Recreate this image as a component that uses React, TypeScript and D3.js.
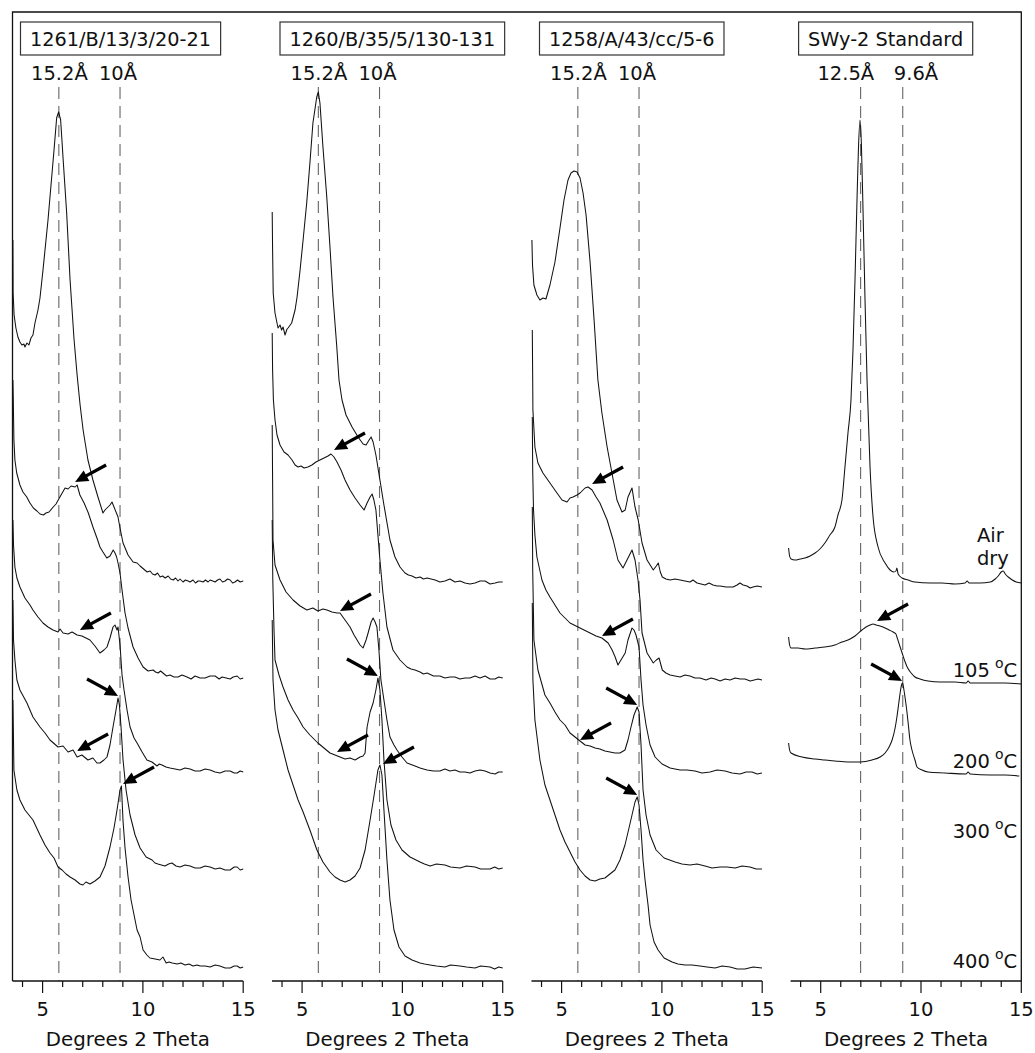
import React, { useEffect, useRef } from "react";
import * as d3 from "d3";

type Pt = [number, number];

// ---------------- data ----------------
const SAMPLES = ["1261/B/13/3/20-21", "1260/B/35/5/130-131", "1258/A/43/cc/5-6", "SWy-2 Standard"];
const PEAK_LABELS = [["15.2Å", "10Å"], ["15.2Å", "10Å"], ["15.2Å", "10Å"], ["12.5Å", "9.6Å"]];
const PEAK_LINES = [[5.81, 8.86], [5.81, 8.86], [5.81, 8.86], [6.99, 9.09]];
const PEAK_LABEL_POS = [[5.84, 8.76], [5.84, 8.76], [5.84, 8.76], [6.25, 9.75]];
const X_TICKS = [4, 5, 6, 7, 8, 9, 10, 11, 12, 13, 14, 15];
const X_MAJOR = [5, 10, 15];
const TREATMENTS = ["105", "200", "300", "400"];
const TREATMENT_LEVEL = [304, 213, 143, 13];
const AIR_DRY = ["Air", "dry"];
const AIR_DRY_LEVEL = [439, 416];

// Panel 1: 1261/B/13/3/20-21  [2θ, intensity (offset)]
const P1_AIR: Pt[] = [[3.52,741],[3.53,688],[3.58,666],[3.67,653],[3.77,644],[3.87,639],[3.97,636],[4.07,637],[4.12,634],[4.22,638],[4.32,636],[4.42,643],[4.52,646],[4.62,658],[4.77,671],[4.87,683],[5.02,711],[5.17,741],[5.27,761],[5.42,796],[5.57,831],[5.70,863],[5.80,869],[5.90,861],[6.02,823],[6.20,768],[6.37,701],[6.57,641],[6.73,604],[6.87,576],[7.02,551],[7.26,521],[7.51,501],[7.76,484],[8.01,468],[8.11,471],[8.21,473],[8.36,476],[8.46,479],[8.56,474],[8.76,464],[8.86,453],[9.01,438],[9.26,426],[9.51,419],[9.71,418],[9.86,415],[10.21,409],[10.36,410],[10.48,407],[10.61,406],[10.73,408],[10.86,404],[10.98,405],[11.11,403],[11.26,405],[11.38,402],[11.51,401],[11.63,403],[11.75,400],[11.85,402],[12.0,399],[12.12,401],[12.25,400],[12.35,399],[12.5,401],[12.62,398],[12.75,400],[12.85,400],[13.0,399],[13.12,401],[13.25,399],[13.35,401],[13.48,400],[13.60,399],[13.72,401],[13.84,402],[13.97,399],[14.10,400],[14.22,402],[14.35,401],[14.47,398],[14.59,399],[14.72,401],[14.85,399],[15.0,400]];
const P1_105: Pt[] = [[3.52,601],[3.54,581],[3.57,541],[3.62,521],[3.71,508],[3.87,496],[4.02,489],[4.21,484],[4.37,478],[4.54,473],[4.72,470],[4.87,467],[5.04,466],[5.17,468],[5.32,469],[5.53,474],[5.67,477],[5.78,481],[5.92,486],[6.12,493],[6.27,492],[6.42,495],[6.62,494],[6.72,496],[6.86,486],[7.07,478],[7.28,468],[7.51,454],[7.71,443],[7.86,434],[8.01,429],[8.20,423],[8.36,425],[8.52,431],[8.61,428],[8.69,424],[8.76,418],[8.86,408],[8.96,391],[9.11,368],[9.26,353],[9.51,334],[9.76,323],[10.01,314],[10.26,310],[10.51,311],[10.63,309],[10.76,308],[10.88,310],[11.00,308],[11.18,305],[11.35,306],[11.55,304],[11.75,304],[11.95,306],[12.20,304],[12.40,302],[12.60,305],[12.85,303],[13.10,303],[13.35,305],[13.60,305],[13.80,302],[13.95,304],[14.15,303],[14.35,302],[14.50,304],[14.70,305],[14.85,302],[15.0,303]];
const P1_200: Pt[] = [[3.52,461],[3.55,436],[3.62,414],[3.72,403],[3.87,394],[4.12,383],[4.37,376],[4.52,371],[4.77,364],[5.02,358],[5.27,354],[5.52,351],[5.77,349],[5.87,352],[6.02,348],[6.27,347],[6.47,349],[6.72,346],[6.96,345],[7.16,343],[7.36,341],[7.61,335],[7.86,328],[8.06,331],[8.21,334],[8.36,343],[8.51,354],[8.61,356],[8.71,351],[8.76,354],[8.86,336],[8.96,306],[9.06,291],[9.21,271],[9.36,254],[9.56,243],[9.71,238],[9.96,229],[10.20,221],[10.45,219],[10.58,217],[10.70,215],[10.82,217],[10.95,216],[11.15,214],[11.35,213],[11.60,212],[11.85,211],[12.10,213],[12.35,212],[12.60,210],[12.85,210],[13.10,212],[13.35,211],[13.60,209],[13.84,208],[14.10,210],[14.35,210],[14.55,208],[14.70,208],[14.85,210],[15.0,209]];
const P1_300: Pt[] = [[3.52,381],[3.55,341],[3.62,321],[3.72,301],[3.87,291],[4.22,278],[4.52,264],[4.87,254],[5.12,248],[5.37,241],[5.77,234],[6.02,235],[6.27,229],[6.52,231],[6.72,224],[6.96,226],[7.26,221],[7.51,223],[7.71,218],[7.86,218],[8.06,221],[8.21,224],[8.36,236],[8.51,254],[8.66,271],[8.76,283],[8.83,276],[8.91,254],[9.01,221],[9.16,191],[9.36,166],[9.61,146],[9.86,133],[10.16,124],[10.46,121],[10.60,118],[10.75,117],[10.92,116],[11.10,115],[11.28,117],[11.45,118],[11.65,115],[11.85,114],[12.10,116],[12.35,115],[12.60,113],[12.85,113],[13.10,115],[13.35,114],[13.60,112],[13.84,113],[14.10,111],[14.35,111],[14.55,114],[14.70,114],[14.85,111],[15.0,112]];
const P1_400: Pt[] = [[3.52,281],[3.55,241],[3.57,211],[3.72,191],[3.87,181],[4.12,171],[4.52,161],[4.87,146],[5.12,136],[5.37,128],[5.57,123],[5.77,114],[5.97,111],[6.17,107],[6.37,104],[6.62,101],[6.86,97],[7.01,96],[7.16,99],[7.36,97],[7.61,100],[7.86,104],[8.11,115],[8.36,134],[8.56,153],[8.71,171],[8.86,191],[8.93,195],[9.01,160],[9.11,133],[9.26,104],[9.41,81],[9.56,66],[9.71,51],[9.86,44],[10.01,31],[10.20,26],[10.35,23],[10.61,22],[10.85,21],[11.00,24],[11.16,18],[11.30,19],[11.46,18],[11.71,17],[11.90,18],[12.10,16],[12.30,17],[12.50,15],[12.70,16],[12.85,15],[13.10,15],[13.35,14],[13.60,16],[13.84,15],[14.10,13],[14.35,13],[14.55,15],[14.70,15],[14.85,13],[15.0,14]];

// Panel 2: 1260/B/35/5/130-131
const P2_AIR: Pt[] = [[3.51,769],[3.53,731],[3.56,688],[3.65,668],[3.80,653],[3.90,656],[3.98,651],[4.05,654],[4.15,646],[4.25,652],[4.30,653],[4.48,658],[4.65,671],[4.75,684],[4.90,711],[5.05,741],[5.23,778],[5.39,818],[5.54,858],[5.73,884],[5.81,889],[5.89,878],[6.04,834],[6.23,784],[6.39,734],[6.54,684],[6.73,634],[6.84,601],[6.99,581],[7.19,566],[7.49,554],[7.79,544],[8.04,537],[8.19,536],[8.34,541],[8.44,544],[8.54,539],[8.68,526],[8.88,501],[9.08,476],[9.38,441],[9.63,424],[9.88,414],[10.13,408],[10.30,406],[10.48,405],[10.68,403],[10.88,404],[11.05,402],[11.23,403],[11.43,402],[11.63,401],[11.87,399],[12.12,400],[12.37,402],[12.62,399],[12.87,400],[13.12,398],[13.37,397],[13.62,398],[13.87,400],[14.12,400],[14.37,397],[14.62,398],[14.80,399],[15.0,399]];
const P2_105: Pt[] = [[3.51,648],[3.53,611],[3.57,581],[3.65,561],[3.75,546],[3.90,536],[4.10,529],[4.30,526],[4.50,521],[4.65,516],[4.80,514],[4.95,515],[5.10,513],[5.29,514],[5.49,516],[5.69,519],[5.89,521],[6.09,523],[6.29,525],[6.44,527],[6.59,524],[6.74,519],[6.94,511],[7.14,501],[7.39,491],[7.64,483],[7.89,476],[8.09,471],[8.24,478],[8.39,484],[8.49,487],[8.58,481],[8.68,471],[8.78,446],[8.88,421],[9.03,388],[9.23,354],[9.53,331],[9.88,321],[10.23,314],[10.43,312],[10.63,311],[10.88,309],[11.05,307],[11.23,308],[11.55,305],[11.87,305],[12.12,303],[12.37,304],[12.62,304],[12.87,302],[13.12,303],[13.37,303],[13.62,305],[13.87,303],[14.12,305],[14.37,302],[14.62,302],[14.80,304],[15.0,303]];
const P2_200: Pt[] = [[3.51,556],[3.53,501],[3.55,441],[3.65,416],[3.90,401],[4.20,389],[4.55,381],[4.90,375],[5.24,371],[5.54,373],[5.79,370],[6.04,372],[6.24,371],[6.49,369],[6.74,368],[6.89,368],[7.14,361],[7.39,354],[7.59,346],[7.74,341],[7.89,336],[8.04,333],[8.19,341],[8.29,348],[8.44,359],[8.54,363],[8.64,359],[8.73,354],[8.83,331],[8.93,301],[9.08,281],[9.23,261],[9.38,244],[9.58,236],[9.73,231],[9.98,224],[10.23,218],[10.63,215],[10.88,213],[11.05,212],[11.23,211],[11.55,210],[11.87,210],[12.12,212],[12.37,210],[12.62,211],[12.87,209],[13.12,209],[13.37,208],[13.62,210],[13.87,211],[14.12,210],[14.37,208],[14.62,207],[14.80,209],[15.0,209]];
const P2_300: Pt[] = [[3.51,461],[3.54,401],[3.60,351],[3.65,321],[3.85,306],[4.05,294],[4.30,281],[4.55,271],[4.80,263],[5.05,254],[5.39,246],[5.79,238],[6.09,233],[6.39,228],[6.64,226],[6.89,224],[7.14,222],[7.39,223],[7.64,221],[7.89,224],[8.04,225],[8.14,228],[8.24,254],[8.39,269],[8.54,278],[8.68,291],[8.78,303],[8.88,291],[8.98,261],[9.08,221],[9.23,181],[9.43,156],[9.68,141],[9.98,131],[10.38,124],[10.88,119],[11.10,117],[11.38,115],[11.70,117],[12.12,116],[12.40,114],[12.87,113],[13.20,115],[13.62,114],[13.90,112],[14.37,112],[14.60,114],[14.80,112],[15.0,113]];
const P2_400: Pt[] = [[3.51,361],[3.55,301],[3.65,271],[3.80,251],[4.05,231],[4.30,211],[4.55,196],[4.80,181],[5.05,169],[5.39,151],[5.74,131],[6.04,119],[6.39,109],[6.64,104],[6.89,101],[7.14,99],[7.39,101],[7.64,105],[7.89,113],[8.14,131],[8.39,161],[8.59,186],[8.78,211],[8.88,216],[8.98,206],[9.08,171],[9.23,121],[9.38,81],[9.58,51],[9.83,34],[10.13,25],[10.48,21],[10.88,18],[11.10,17],[11.38,16],[11.70,15],[12.12,14],[12.40,16],[12.87,15],[13.20,14],[13.62,13],[13.90,15],[14.37,14],[14.60,12],[14.80,14],[15.0,13]];

// Panel 3: 1258/A/43/cc/5-6
const P3_AIR: Pt[] = [[3.52,741],[3.55,716],[3.62,696],[3.77,686],[3.92,681],[4.07,683],[4.22,682],[4.42,696],[4.67,719],[4.92,753],[5.12,781],[5.32,801],[5.47,808],[5.62,810],[5.77,809],[5.92,803],[6.07,788],[6.22,766],[6.42,719],[6.62,661],[6.81,601],[7.01,568],[7.27,534],[7.51,508],[7.76,481],[8.01,469],[8.17,471],[8.31,484],[8.51,493],[8.66,474],[8.82,461],[9.01,438],[9.26,421],[9.57,411],[9.72,415],[9.82,418],[9.92,409],[10.02,404],[10.20,402],[10.41,401],[10.65,402],[10.91,401],[11.15,400],[11.40,399],[11.55,401],[11.75,398],[11.95,397],[12.15,396],[12.35,398],[12.55,396],[12.75,395],[12.90,395],[13.20,394],[13.55,394],[13.75,396],[13.89,398],[14.05,396],[14.24,395],[14.40,393],[14.54,394],[14.75,395],[14.99,394]];
const P3_105: Pt[] = [[3.54,651],[3.56,601],[3.57,571],[3.67,534],[3.82,518],[4.07,508],[4.42,498],[4.77,488],[5.02,481],[5.27,479],[5.42,483],[5.57,484],[5.77,486],[5.92,488],[6.07,491],[6.17,493],[6.32,494],[6.52,491],[6.72,484],[6.91,478],[7.27,461],[7.57,441],[7.81,421],[8.06,413],[8.26,421],[8.51,431],[8.66,421],[8.81,401],[8.91,381],[9.01,348],[9.26,328],[9.57,318],[9.72,321],[9.86,323],[10.02,311],[10.20,308],[10.41,306],[10.65,305],[10.91,304],[11.15,306],[11.40,305],[11.65,303],[11.90,303],[12.20,301],[12.45,303],[12.65,302],[12.90,300],[13.15,302],[13.40,301],[13.65,303],[13.90,302],[14.14,302],[14.40,300],[14.60,301],[14.80,302],[14.99,301]];
const P3_200: Pt[] = [[3.54,564],[3.56,511],[3.60,471],[3.67,446],[3.77,424],[4.02,401],[4.22,391],[4.42,384],[4.67,376],[4.92,368],[5.17,363],[5.42,358],[5.62,356],[5.82,354],[6.12,351],[6.42,348],[6.72,345],[7.01,343],[7.32,338],[7.52,331],[7.67,324],[7.81,316],[7.96,321],[8.17,328],[8.31,341],[8.51,353],[8.61,351],[8.71,346],[8.86,334],[8.96,301],[9.06,276],[9.21,256],[9.41,236],[9.66,224],[10.01,217],[10.41,213],[10.65,212],[10.91,211],[11.25,211],[11.65,210],[12.00,208],[12.40,209],[12.75,211],[13.15,210],[13.50,208],[13.89,207],[14.20,209],[14.49,209],[14.75,207],[14.99,208]];
const P3_300: Pt[] = [[3.54,474],[3.56,411],[3.62,341],[3.82,311],[4.17,286],[4.42,278],[4.67,269],[4.92,261],[5.17,256],[5.42,248],[5.67,244],[5.92,240],[6.17,236],[6.42,235],[6.67,233],[6.91,232],[7.16,230],[7.41,229],[7.66,228],[7.91,228],[8.16,231],[8.31,241],[8.46,254],[8.61,266],[8.77,274],[8.86,269],[8.96,236],[9.06,191],[9.21,166],[9.41,146],[9.71,131],[10.11,123],[10.66,119],[11.00,117],[11.40,116],[11.75,117],[12.15,115],[12.50,113],[12.90,114],[13.25,114],[13.65,113],[14.00,115],[14.39,114],[14.70,112],[14.99,112]];
const P3_400: Pt[] = [[3.54,378],[3.57,301],[3.67,261],[3.92,221],[4.17,196],[4.42,181],[4.67,166],[4.92,151],[5.17,139],[5.42,129],[5.67,119],[5.92,111],[6.17,105],[6.42,101],[6.67,100],[6.91,102],[7.16,103],[7.41,107],[7.66,111],[7.91,121],[8.16,136],[8.36,153],[8.51,166],[8.66,179],[8.77,184],[8.86,176],[8.96,151],[9.06,121],[9.16,101],[9.31,76],[9.41,56],[9.61,39],[9.81,31],[10.11,23],[10.51,19],[10.80,17],[11.15,16],[11.50,16],[11.90,15],[12.25,14],[12.65,13],[13.00,15],[13.40,14],[13.75,12],[14.14,12],[14.55,14],[14.99,13]];

// Panel 4: SWy-2 Standard
const P4_AIR: Pt[] = [[3.40,433],[3.45,425],[3.52,422],[3.72,421],[3.97,422],[4.22,423],[4.47,425],[4.72,428],[4.96,432],[5.21,438],[5.46,446],[5.71,454],[5.86,466],[6.06,481],[6.21,514],[6.36,548],[6.51,581],[6.61,631],[6.71,701],[6.81,781],[6.88,831],[6.96,861],[7.03,836],[7.11,771],[7.21,681],[7.31,601],[7.46,514],[7.61,464],[7.86,434],[8.21,418],[8.46,411],[8.65,409],[8.75,410],[8.80,413],[8.86,407],[9.06,403],[9.36,401],[9.70,399],[10.45,398],[11.05,398],[11.70,397],[12.20,398],[12.30,400],[12.40,398],[12.95,398],[13.46,399],[13.70,402],[13.85,405],[14.00,409],[14.10,410],[14.20,407],[14.35,404],[14.55,401],[14.75,399],[15.0,398]];
const P4_105: Pt[] = [[3.40,344],[3.45,336],[3.52,333],[3.87,333],[4.22,332],[4.72,333],[5.21,334],[5.71,336],[6.06,339],[6.36,341],[6.71,345],[7.06,351],[7.26,354],[7.46,356],[7.61,357],[7.76,356],[7.96,355],[8.21,353],[8.41,351],[8.61,349],[8.75,347],[8.80,344],[8.96,334],[9.06,328],[9.21,319],[9.31,314],[9.51,308],[9.70,304],[9.95,302],[10.35,300],[10.95,299],[11.70,299],[12.25,298],[12.35,300],[12.45,298],[13.46,298],[14.20,298],[15.0,297]];
const P4_200: Pt[] = [[3.40,238],[3.45,231],[3.52,228],[4.07,224],[4.72,222],[5.21,221],[5.71,220],[6.36,219],[6.96,219],[7.56,221],[7.96,224],[8.21,228],[8.41,234],[8.56,241],[8.71,253],[8.80,264],[8.90,279],[8.96,288],[9.03,296],[9.08,298],[9.15,291],[9.21,283],[9.30,269],[9.36,258],[9.45,241],[9.55,231],[9.70,221],[9.80,214],[10.05,211],[10.35,209],[11.20,208],[12.25,207],[12.35,209],[12.45,207],[13.46,206],[14.20,206],[14.90,205]];

// arrows: [2θ, intensity at tip, direction]
const ARROWS_P1 = [[6.62, 499, "dl"], [6.86, 351, "dl"], [8.76, 285, "dr"], [6.72, 230, "dl"], [9.01, 197, "dl"]];
const ARROWS_P2 = [[6.59, 531, "dl"], [6.89, 370, "dl"], [8.78, 305, "dr"], [6.74, 229, "dl"], [9.03, 217, "dl"]];
const ARROWS_P3 = [[6.52, 497, "dl"], [7.01, 345, "dl"], [8.77, 276, "dr"], [5.92, 241, "dl"], [8.77, 186, "dr"]];
const ARROWS_P4 = [[7.81, 360, "dl"], [9.06, 300, "dr"]];

const SERIES: Pt[][][] = [
  [P1_AIR, P1_105, P1_200, P1_300, P1_400],
  [P2_AIR, P2_105, P2_200, P2_300, P2_400],
  [P3_AIR, P3_105, P3_200, P3_300, P3_400],
  [P4_AIR, P4_105, P4_200],
];
const ARROWS = [ARROWS_P1, ARROWS_P2, ARROWS_P3, ARROWS_P4];

export default function App() {
  const ref = useRef<SVGSVGElement | null>(null);

  useEffect(() => {
    const svg = d3.select(ref.current as SVGSVGElement);
    svg.selectAll("*").remove();
    const FONT = "'DejaVu Sans', Verdana, sans-serif";
    const INK = "#111";

    const y = d3.scaleLinear().domain([0, 969]).range([981, 12]);
    const panelLeft = [12.5, 272, 531.5, 790.6];
    const panelWidth = 230.7;
    const xs = panelLeft.map((L) => d3.scaleLinear().domain([3.5, 15]).range([L, L + panelWidth]));

    const base = y(0);
    const top = y(969);

    svg.append("rect").attr("x", 0).attr("y", 0).attr("width", 1035).attr("height", 1053).attr("fill", "#fff");

    // outer frame
    svg.append("path")
      .attr("d", `M${xs[0](3.5)},${base}V${top}H${xs[3](15)}V${base}`)
      .attr("fill", "none").attr("stroke", INK).attr("stroke-width", 1.3);

    const drawArrow = (g: any, tx: number, ty: number, dir: string) => {
      const dx = dir === "dl" ? 31 : -31;
      const dy = -17;
      const len = Math.hypot(dx, dy);
      const ux = -dx / len, uy = -dy / len;
      const headLen = 13, headHalf = 6;
      const bx = tx - ux * headLen, by = ty - uy * headLen;
      const px = -uy, py = ux;
      g.append("line")
        .attr("x1", tx + dx).attr("y1", ty + dy)
        .attr("x2", bx + ux * 2).attr("y2", by + uy * 2)
        .attr("stroke", "#000").attr("stroke-width", 3.2);
      g.append("path")
        .attr("d", `M${tx},${ty}L${bx + px * headHalf},${by + py * headHalf}L${bx - px * headHalf},${by - py * headHalf}Z`)
        .attr("fill", "#000");
    };

    xs.forEach((x, i) => {
      const g = svg.append("g").attr("font-family", FONT).attr("fill", INK);

      // dashed reference lines
      PEAK_LINES[i].forEach((p) => {
        g.append("line")
          .attr("x1", x(p)).attr("x2", x(p))
          .attr("y1", y(894)).attr("y2", base)
          .attr("stroke", "#666").attr("stroke-width", 1.1)
          .attr("stroke-dasharray", "12,7");
      });
      PEAK_LABELS[i].forEach((lab, j) => {
        g.append("text")
          .attr("x", x(PEAK_LABEL_POS[i][j])).attr("y", 80)
          .attr("text-anchor", "middle").attr("font-size", 19.5)
          .text(lab);
      });

      // header box
      const hx = x(3.5) + 8;
      const t = g.append("text").attr("x", hx + 9.5).attr("y", 46).attr("font-size", 19.3).text(SAMPLES[i]);
      const bb = (t.node() as SVGTextElement).getBBox();
      g.insert("rect", "text")
        .attr("x", hx).attr("y", 22).attr("width", bb.width + 19).attr("height", 33)
        .attr("fill", "#fff").attr("stroke", "#333").attr("stroke-width", 1.2);

      // traces
      const line = d3.line<Pt>().x((d) => x(d[0])).y((d) => y(d[1]))
        .curve(i === 3 ? d3.curveMonotoneX : d3.curveLinear);
      SERIES[i].forEach((s) => {
        g.append("path").attr("d", line(s) as string)
          .attr("fill", "none").attr("stroke", INK).attr("stroke-width", 1.05)
          .attr("stroke-linejoin", "round");
      });

      // arrows
      ARROWS[i].forEach((a: any) => drawArrow(g, x(a[0]), y(a[1]), a[2]));

      // axis
      g.append("line")
        .attr("x1", x(3.5)).attr("x2", x(15)).attr("y1", base).attr("y2", base)
        .attr("stroke", INK).attr("stroke-width", 1.3);
      X_TICKS.forEach((tk) => {
        const major = X_MAJOR.includes(tk);
        g.append("line")
          .attr("x1", x(tk)).attr("x2", x(tk))
          .attr("y1", base).attr("y2", base + (major ? 12 : 6))
          .attr("stroke", INK).attr("stroke-width", 1.2);
        if (major) {
          g.append("text").attr("x", x(tk)).attr("y", 1016)
            .attr("text-anchor", "middle").attr("font-size", 19.5).text(String(tk));
        }
      });
      g.append("text")
        .attr("x", (x(3.5) + x(15)) / 2).attr("y", 1046)
        .attr("text-anchor", "middle").attr("font-size", 19.8)
        .text("Degrees 2 Theta");
    });

    // treatment labels (panel 4)
    const x4 = xs[3];
    const lg = svg.append("g").attr("font-family", FONT).attr("fill", INK).attr("font-size", 19.5);
    AIR_DRY.forEach((w, k) => {
      lg.append("text").attr("x", x4(12.79)).attr("y", y(AIR_DRY_LEVEL[k])).text(w);
    });
    TREATMENTS.forEach((tr, k) => {
      const txt = lg.append("text").attr("x", x4(14.79)).attr("y", y(TREATMENT_LEVEL[k])).attr("text-anchor", "end");
      txt.append("tspan").text(tr);
      txt.append("tspan").attr("dx", 5).attr("dy", -9).attr("font-size", 14).text("o");
      txt.append("tspan").attr("dy", 9).text("C");
    });
  }, []);

  return (
    <svg
      ref={ref}
      width={1035}
      height={1053}
      style={{ position: "absolute", left: 0, top: 0, display: "block", background: "#fff" }}
    />
  );
}
